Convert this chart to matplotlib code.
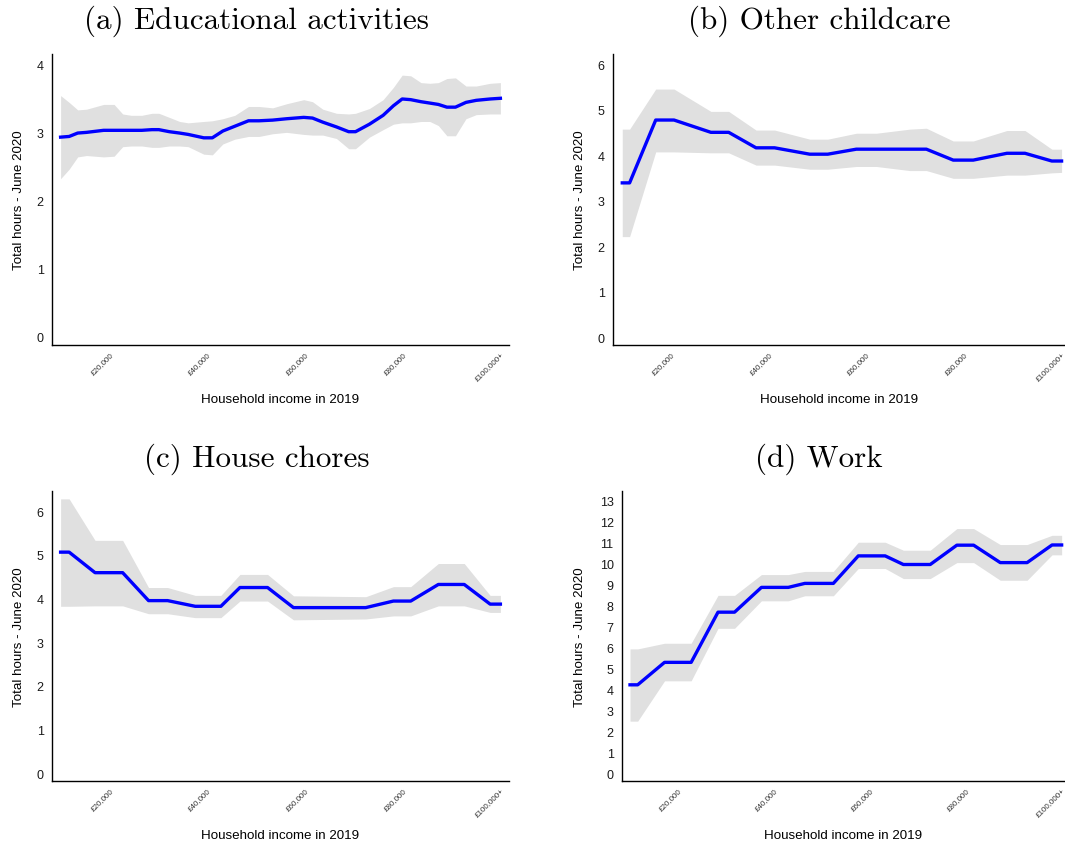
import matplotlib
matplotlib.use("Agg")
import matplotlib.pyplot as plt
import matplotlib.transforms as mtransforms

# ---------------- data ----------------
tick_values = [20000, 40000, 60000, 80000, 100000]
tick_labels = ["£20,000", "£40,000", "£60,000", "£80,000", "£100,000+"]

# (a) Educational activities
a_x = [10000, 11750, 13500, 15300, 18800, 20950, 22700, 24450, 26600, 28700, 30100,
       32250, 34350, 36100, 39300, 41050, 43200, 45650, 48450, 50600, 53400, 56250,
       59750, 61550, 63650, 66450, 68950, 70350, 73200, 76000, 78100, 79900, 81650,
       83750, 85550, 87300, 89050, 90800, 92950, 95050, 97900, 100000]
a_mean = [2.93, 2.94, 2.99, 3.00, 3.03, 3.03, 3.03, 3.03, 3.03, 3.04, 3.04,
          3.01, 2.99, 2.97, 2.92, 2.92, 3.02, 3.09, 3.17, 3.17, 3.18, 3.20,
          3.22, 3.21, 3.15, 3.08, 3.01, 3.01, 3.12, 3.25, 3.39, 3.49, 3.48,
          3.45, 3.43, 3.41, 3.37, 3.37, 3.44, 3.47, 3.49, 3.50]
a_upper = [3.54, 3.44, 3.33, 3.34, 3.41, 3.41, 3.27, 3.25, 3.25, 3.28, 3.28,
           3.22, 3.16, 3.14, 3.16, 3.17, 3.20, 3.25, 3.38, 3.38, 3.36, 3.42,
           3.48, 3.45, 3.34, 3.28, 3.27, 3.28, 3.35, 3.48, 3.66, 3.84, 3.83,
           3.73, 3.72, 3.73, 3.79, 3.80, 3.68, 3.68, 3.72, 3.73]
a_lower = [2.32, 2.46, 2.64, 2.66, 2.64, 2.65, 2.79, 2.80, 2.80, 2.78, 2.78,
           2.80, 2.80, 2.79, 2.68, 2.67, 2.83, 2.90, 2.94, 2.94, 2.98, 3.00,
           2.97, 2.96, 2.96, 2.91, 2.76, 2.76, 2.93, 3.04, 3.12, 3.14, 3.14,
           3.16, 3.16, 3.10, 2.95, 2.95, 3.20, 3.26, 3.27, 3.27]

# (b) Other childcare
b_x = [10000, 11500, 16850, 20600, 28150, 31800, 37400, 41200, 48400, 52100,
       57950, 62050, 68900, 72300, 77800, 81900, 88800, 92500, 98000, 100000]
b_mean = [3.39, 3.39, 4.77, 4.77, 4.50, 4.50, 4.16, 4.16, 4.02, 4.02,
          4.13, 4.13, 4.13, 4.13, 3.89, 3.89, 4.04, 4.04, 3.87, 3.87]
b_upper = [4.57, 4.57, 5.45, 5.45, 4.96, 4.96, 4.55, 4.55, 4.35, 4.35,
           4.48, 4.48, 4.57, 4.59, 4.31, 4.31, 4.54, 4.54, 4.13, 4.13]
b_lower = [2.21, 2.21, 4.07, 4.07, 4.05, 4.05, 3.78, 3.78, 3.69, 3.69,
           3.75, 3.75, 3.66, 3.66, 3.49, 3.49, 3.56, 3.56, 3.61, 3.62]

# (c) House chores
c_x = [10000, 11750, 17050, 22700, 28000, 31900, 37550, 42800, 46700, 52350,
       57650, 72450, 78100, 81650, 87300, 92600, 97900, 100000]
c_mean = [5.06, 5.06, 4.59, 4.59, 3.95, 3.95, 3.82, 3.82, 4.25, 4.25,
          3.79, 3.79, 3.94, 3.94, 4.32, 4.32, 3.87, 3.87]
c_upper = [6.28, 6.28, 5.33, 5.33, 4.25, 4.25, 4.07, 4.07, 4.55, 4.55,
           4.06, 4.04, 4.27, 4.27, 4.80, 4.80, 4.07, 4.07]
c_lower = [3.82, 3.82, 3.83, 3.83, 3.65, 3.65, 3.56, 3.56, 3.94, 3.94,
           3.51, 3.53, 3.60, 3.60, 3.83, 3.83, 3.68, 3.68]

# (d) Work
d_x = [10000, 11600, 17200, 22750, 28350, 31800, 37400, 43000, 46450, 52400,
       57600, 63200, 67000, 72600, 78150, 81650, 87200, 92800, 98000, 100000]
d_mean = [4.20, 4.20, 5.27, 5.27, 7.66, 7.66, 8.84, 8.84, 9.03, 9.03,
          10.34, 10.34, 9.93, 9.93, 10.85, 10.85, 10.02, 10.02, 10.86, 10.86]
d_upper = [5.91, 5.91, 6.18, 6.18, 8.46, 8.46, 9.45, 9.45, 9.60, 9.60,
           10.99, 10.99, 10.61, 10.61, 11.64, 11.64, 10.88, 10.88, 11.32, 11.32]
d_lower = [2.47, 2.47, 4.39, 4.39, 6.89, 6.89, 8.20, 8.20, 8.44, 8.44,
           9.74, 9.74, 9.26, 9.26, 10.02, 10.02, 9.18, 9.18, 10.39, 10.39]

titles = ["(a) Educational activities", "(b) Other childcare",
          "(c) House chores", "(d) Work"]

# ---------------- layout ----------------
W, H = 1065, 845
fig = plt.figure(figsize=(W / 100, H / 100), dpi=100)
plt.rcParams['font.family'] = ['Liberation Sans', 'DejaVu Sans']

def box(l, r, t, b):
    return [l / W, 1 - b / H, (r - l) / W, (b - t) / H]

# (rect px: left, right, top, bottom), ylabel right-edge px, xlabel top px
panels = [
    ((52, 509, 55, 346), a_x, a_mean, a_lower, a_upper, (-0.12, 4.15), range(0, 5), (8240, 101760), 25, 394),
    ((613, 1065, 55, 346), b_x, b_mean, b_lower, b_upper, (-0.17, 6.22), range(0, 7), (8100, 100700), 586, 394),
    ((52, 509, 492, 782), c_x, c_mean, c_lower, c_upper, (-0.18, 6.46), range(0, 7), (8240, 101760), 25, 830),
    ((622, 1065, 492, 782), d_x, d_mean, d_lower, d_upper, (-0.38, 13.43), range(0, 14), (8330, 100700), 586, 830),
]
title_pos = [(257, 21), (819, 21), (257, 459), (819, 459)]

offset = mtransforms.ScaledTranslation(2 / 100, 0, fig.dpi_scale_trans)

for (px, x, m, lo, up, ylim, yt, xlim, ylab_x, xlab_y), t, tp in zip(panels, titles, title_pos):
    ax = fig.add_axes(box(*px))
    ax.fill_between(x, lo, up, color='#e0e0e0', linewidth=0, zorder=1)
    ax.plot(x, m, color='#0000ff', lw=2.4, zorder=2, solid_joinstyle='round')
    ax.set_xlim(*xlim)
    ax.set_ylim(*ylim)
    ax.set_yticks(list(yt))
    ax.set_xticks(tick_values)
    ax.set_xticklabels(tick_labels, rotation=45, ha='right', rotation_mode='anchor',
                       fontsize=5.8, color='#333333')
    for lab in ax.get_xticklabels():
        lab.set_transform(lab.get_transform() + offset)
    ax.tick_params(axis='both', length=0)
    ax.tick_params(axis='y', labelsize=9, pad=6, labelcolor='#1a1a1a')
    ax.tick_params(axis='x', pad=4)
    for s in ['top', 'right']:
        ax.spines[s].set_visible(False)
    for s in ['left', 'bottom']:
        ax.spines[s].set_linewidth(1.0)
    ax.set_ylabel("Total hours - June 2020", fontsize=9.6)
    ax.set_xlabel("Household income in 2019", fontsize=9.6)
    ax.yaxis.set_label_coords(ylab_x / W, 1 - (px[2] + px[3]) / 2 / H, transform=fig.transFigure)
    ax.xaxis.set_label_coords((px[0] + px[1]) / 2 / W, 1 - xlab_y / H, transform=fig.transFigure)
    fig.text(tp[0] / W, 1 - tp[1] / H, t, family='cmr10', fontsize=22.4,
             ha='center', va='center')

fig.savefig("out.png", dpi=100)
